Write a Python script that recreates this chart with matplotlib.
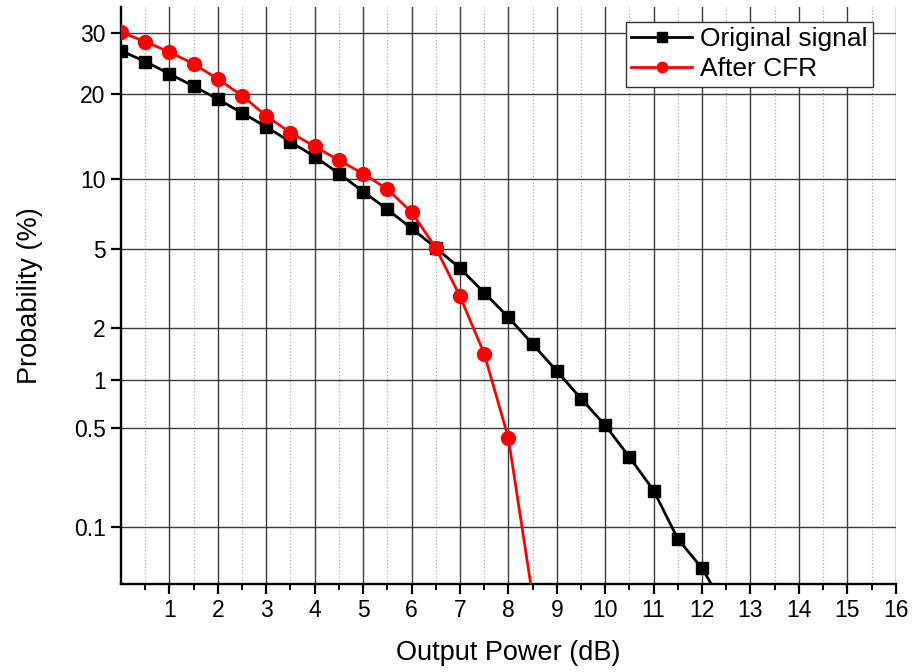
import numpy as np
import matplotlib.pyplot as plt
from statistics import NormalDist

# 数据
x_orig = [0, 0.5, 1, 1.5, 2, 2.5, 3, 3.5, 4, 4.5, 5, 5.5, 6, 6.5, 7, 7.5, 8,
          8.5, 9, 9.5, 10, 10.5, 11, 11.5, 12, 12.5]
y_orig = [26.9, 25.1, 23.1, 21.2, 19.3, 17.4, 15.6, 13.8, 12.2, 10.5, 8.9, 7.5,
          6.2, 5.06, 4.04, 3.06, 2.27, 1.62, 1.13, 0.77, 0.52, 0.32, 0.186,
          0.081, 0.0475, 0.0216]

x_cfr = [0, 0.5, 1, 1.5, 2, 2.5, 3, 3.5, 4, 4.5, 5, 5.5, 6, 6.5, 7, 7.5, 8, 8.5]
y_cfr = [30.2, 28.5, 26.7, 24.7, 22.3, 19.8, 17.0, 14.9, 13.3, 11.8, 10.5, 9.1,
         7.3, 5.06, 2.93, 1.43, 0.43, 0.028]

y_ticks = [0.1, 0.5, 1, 2, 5, 10, 20, 30]
y_ticklabels = ['0.1', '0.5', '1', '2', '5', '10', '20', '30']
x_ticks = list(range(1, 17))

nd = NormalDist()
_ppf = np.vectorize(nd.inv_cdf, otypes=[float])
_cdf = np.vectorize(nd.cdf, otypes=[float])


# 概率坐标 (正态分位数)
def prob_fwd(p):
    p = np.clip(np.asarray(p, dtype=float) / 100.0, 1e-12, 1 - 1e-12)
    return _ppf(p)


def prob_inv(z):
    return _cdf(np.asarray(z, dtype=float)) * 100.0


plt.rcParams['font.family'] = ['Liberation Sans', 'DejaVu Sans']

fig = plt.figure(figsize=(9.14, 6.72), dpi=100)
ax = fig.add_axes([0.1324, 0.131, 0.8476, 0.8586])

ax.plot(x_orig, y_orig, '-s', color='black', lw=2.0, ms=8.8,
        label='Original signal', zorder=3)
ax.plot(x_cfr, y_cfr, '-o', color='red', lw=2.0, ms=10,
        label='After CFR', zorder=4)

ax.set_yscale('function', functions=(prob_fwd, prob_inv))
ax.set_xlim(0, 16)
ax.set_ylim(0.0354, 34.9)

ax.set_yticks(y_ticks)
ax.set_yticklabels(y_ticklabels)
ax.yaxis.set_minor_locator(plt.NullLocator())
ax.set_xticks(x_ticks)
ax.set_xticks(np.arange(0.5, 16, 1), minor=True)

ax.grid(True, which='major', axis='both', color='#3a3a3a', lw=1.0)
ax.grid(True, which='minor', axis='x', color='#aaaaaa', lw=0.9, ls=':')
ax.set_axisbelow(True)

for s in ['top', 'right']:
    ax.spines[s].set_visible(False)
for s in ['left', 'bottom']:
    ax.spines[s].set_linewidth(1.7)

ax.tick_params(axis='both', which='major', direction='out', length=7,
               width=1.6, labelsize=16.5, pad=4)
ax.tick_params(axis='x', which='minor', direction='out', length=4, width=1.4)

ax.set_xlabel('Output Power (dB)', fontsize=19.5, labelpad=13)
ax.set_ylabel('Probability (%)', fontsize=19.5, labelpad=22)

leg = ax.legend(loc='upper right', bbox_to_anchor=(0.955, 0.968),
                bbox_transform=fig.transFigure, fontsize=19, frameon=True,
                fancybox=False, edgecolor='#333333', framealpha=1,
                markerscale=0.75, handlelength=2.3, handletextpad=0.3,
                borderpad=0.2, labelspacing=0.25, borderaxespad=0)
leg.get_frame().set_linewidth(1.0)

fig.savefig('out.png', dpi=100)
